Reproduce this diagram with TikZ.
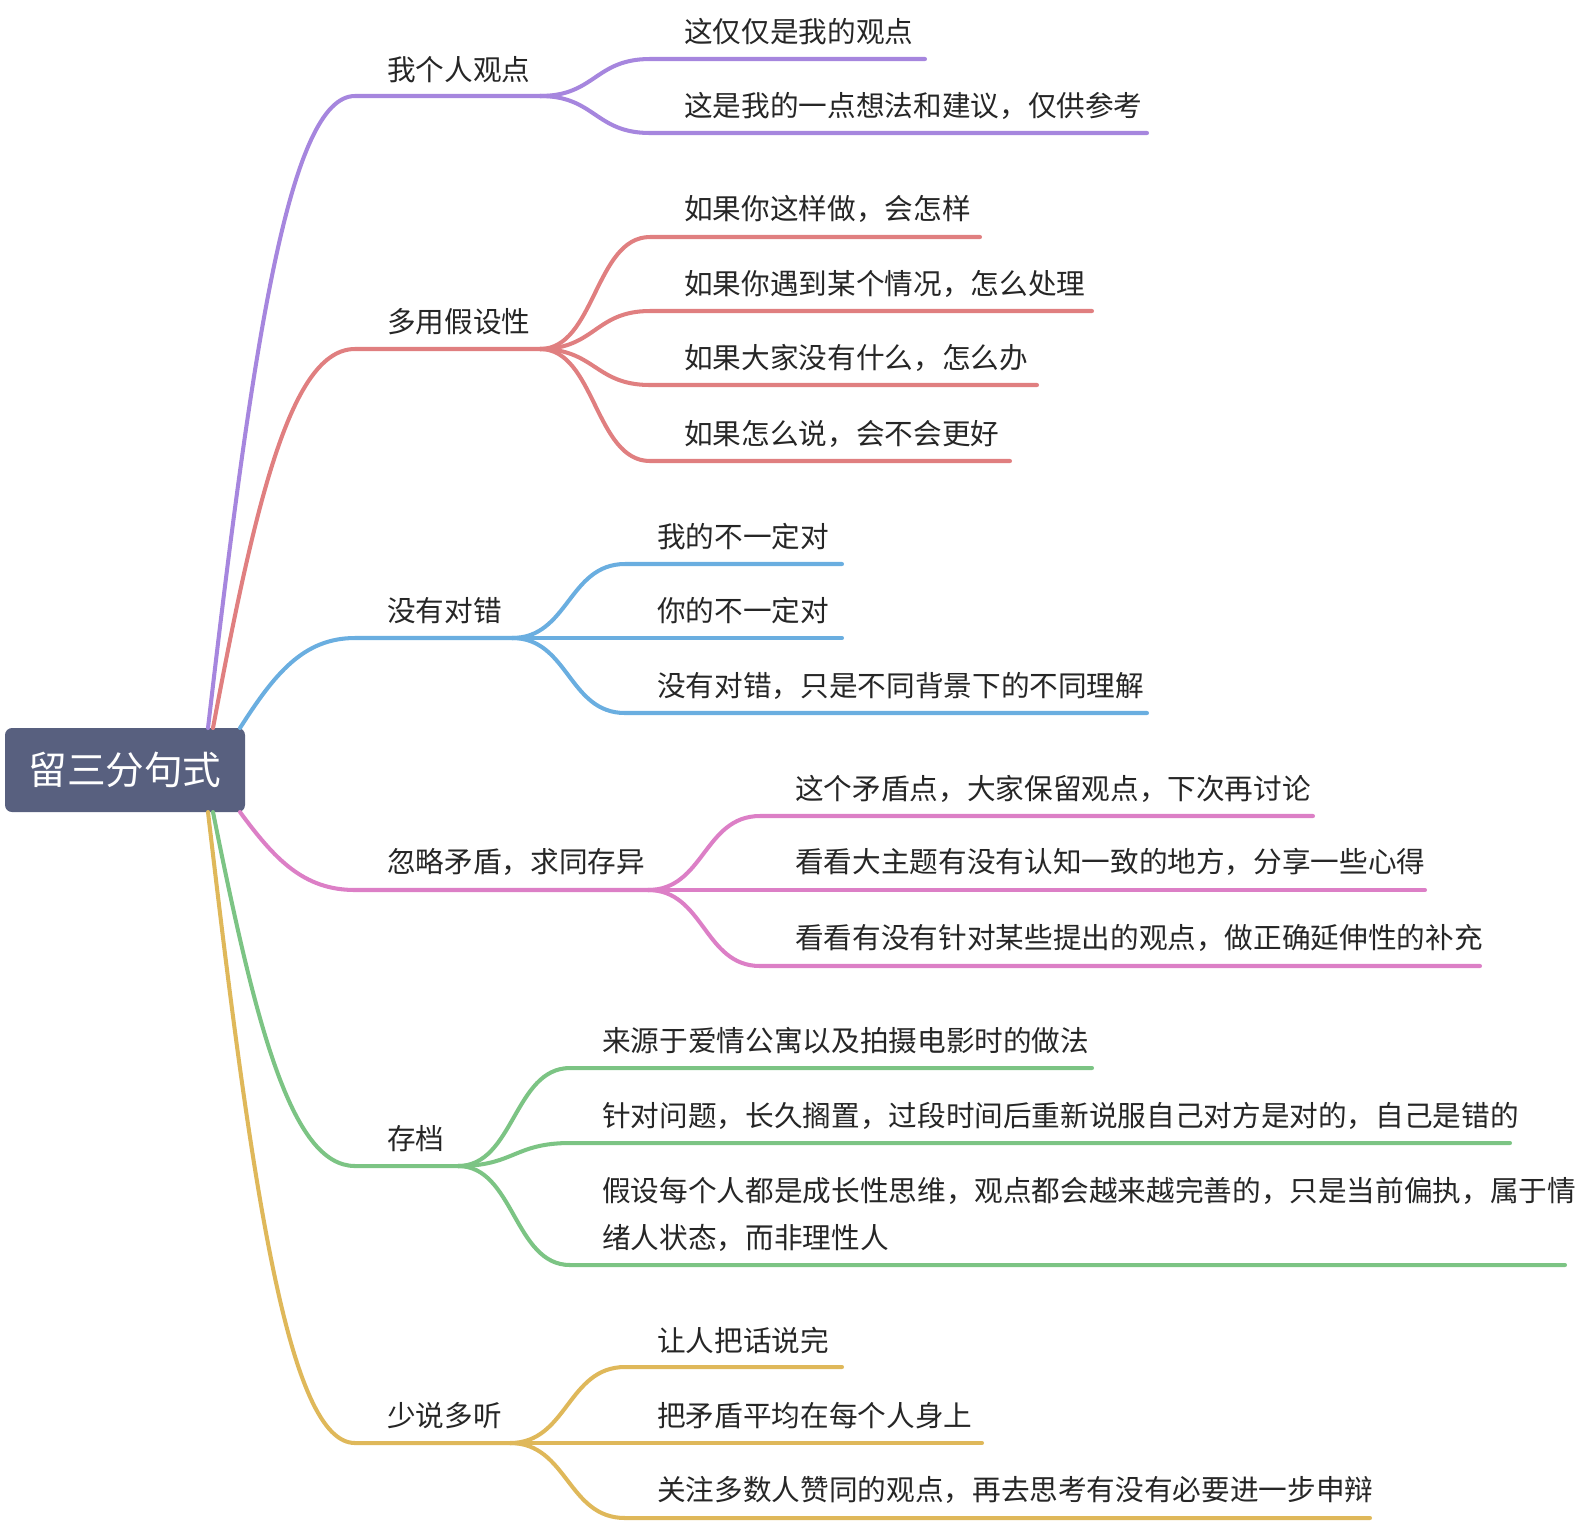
\documentclass[tikz,border=0pt]{standalone}
\usepackage{fontspec}
\setmainfont{Noto Sans CJK SC}
\definecolor{cpur}{RGB}{166,134,222}
\definecolor{cred}{RGB}{224,127,128}
\definecolor{cblu}{RGB}{106,174,224}
\definecolor{cpin}{RGB}{220,127,198}
\definecolor{cgrn}{RGB}{124,196,132}
\definecolor{cyel}{RGB}{223,184,90}
\definecolor{croot}{RGB}{88,96,127}
\begin{document}
\begin{tikzpicture}[x=0.02cm,y=-0.02cm,
  ln/.style={line width=2.3pt,line cap=round},
  lbl/.style={anchor=west,inner sep=0pt,font=\fontsize{16.3}{19}\selectfont,text=black!85}]
\useasboundingbox (0,0) rectangle (1582,1536);
\node[fill=croot,rounded corners=4pt,minimum width=240*0.02cm,minimum height=84*0.02cm,text=white,font=\fontsize{22}{26}\selectfont] (root) at (125,770) {留三分句式};
\newcommand{\rootlink}[5]{%
  \draw[ln,#1] (#2,#3) .. controls ({#2+0.3*(355-#2)},{#3+0.6*(#4-#3)}) and ({#2+0.55*(355-#2)},#4) .. (355,#4) -- (#5,#4);}
\newcommand{\childlink}[6]{%
  \draw[ln,#1] (#2,#3) .. controls ({#2+0.5*(#4-#2)},#3) and ({#2+0.5*(#4-#2)},#5) .. (#4,#5) -- (#6,#5);}
% branch 1
\rootlink{cpur}{208}{728}{96}{555}
\node[lbl] (b1) at (387,70) {我个人观点};
\childlink{cpur}{540}{96}{650}{59}{925}
\childlink{cpur}{540}{96}{650}{133}{1147}
\node[lbl] (b1a) at (684,32) {这仅仅是我的观点};
\node[lbl] (b1b) at (684,106) {这是我的一点想法和建议，仅供参考};
% branch 2
\rootlink{cred}{213}{728}{349}{555}
\node[lbl] (b2) at (387,322) {多用假设性};
\childlink{cred}{540}{349}{650}{237}{980}
\childlink{cred}{540}{349}{650}{311}{1092}
\childlink{cred}{540}{349}{650}{385}{1037}
\childlink{cred}{540}{349}{650}{461}{1010}
\node[lbl] (b2a) at (684,209) {如果你这样做，会怎样};
\node[lbl] (b2b) at (684,284) {如果你遇到某个情况，怎么处理};
\node[lbl] (b2c) at (684,358) {如果大家没有什么，怎么办};
\node[lbl] (b2d) at (684,434) {如果怎么说，会不会更好};
% branch 3
\rootlink{cblu}{240}{728}{638}{527}
\node[lbl] (b3) at (387,611) {没有对错};
\childlink{cblu}{512}{638}{625}{564}{842}
\childlink{cblu}{512}{638}{625}{638}{842}
\childlink{cblu}{512}{638}{625}{713}{1147}
\node[lbl] (b3a) at (657,537) {我的不一定对};
\node[lbl] (b3b) at (657,611) {你的不一定对};
\node[lbl] (b3c) at (657,686) {没有对错，只是不同背景下的不同理解};
% branch 4
\rootlink{cpin}{240}{812}{890}{660}
\node[lbl] (b4) at (387,862) {忽略矛盾，求同存异};
\childlink{cpin}{648}{890}{760}{816}{1313}
\childlink{cpin}{648}{890}{760}{890}{1425}
\childlink{cpin}{648}{890}{760}{966}{1480}
\node[lbl] (b4a) at (795,789) {这个矛盾点，大家保留观点，下次再讨论};
\node[lbl] (b4b) at (795,862) {看看大主题有没有认知一致的地方，分享一些心得};
\node[lbl] (b4c) at (795,938) {看看有没有针对某些提出的观点，做正确延伸性的补充};
% branch 5
\rootlink{cgrn}{213}{812}{1166}{470}
\node[lbl] (b5) at (387,1139) {存档};
\childlink{cgrn}{458}{1166}{570}{1068}{1092}
\childlink{cgrn}{458}{1166}{570}{1143}{1510}
\childlink{cgrn}{458}{1166}{570}{1265}{1565}
\node[lbl] (b5a) at (602,1041) {来源于爱情公寓以及拍摄电影时的做法};
\node[lbl] (b5b) at (602,1116) {针对问题，长久搁置，过段时间后重新说服自己对方是对的，自己是错的};
\node[lbl] (b5c) at (602,1191) {假设每个人都是成长性思维，观点都会越来越完善的，只是当前偏执，属于情};
\node[lbl] (b5d) at (602,1238) {绪人状态，而非理性人};
% branch 6
\rootlink{cyel}{208}{812}{1443}{520}
\node[lbl] (b6) at (387,1416) {少说多听};
\childlink{cyel}{510}{1443}{625}{1367}{842}
\childlink{cyel}{510}{1443}{625}{1443}{982}
\childlink{cyel}{510}{1443}{625}{1518}{1370}
\node[lbl] (b6a) at (657,1340) {让人把话说完};
\node[lbl] (b6b) at (657,1416) {把矛盾平均在每个人身上};
\node[lbl] (b6c) at (657,1490) {关注多数人赞同的观点，再去思考有没有必要进一步申辩};
\end{tikzpicture}
\end{document}
